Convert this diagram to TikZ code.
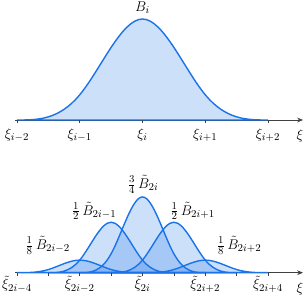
\documentclass[tikz,border=0pt]{standalone}
\usepackage{amsmath}
\usepackage{amssymb}
\usepackage{xcolor}
\usepackage{tikz}
\usetikzlibrary{arrows.meta}

\definecolor{splineblue}{RGB}{26,115,232}
% cubic B-spline: center, knot step, peak height, axis height
\newcommand{\bspl}[4]{({#1-2*#2},#4) .. controls ({#1-5*#2/3},#4) and ({#1-4*#2/3},#4) .. ({#1-#2},{#4+#3/4})
  .. controls ({#1-2*#2/3},{#4+#3/2}) and ({#1-#2/3},{#4+#3}) .. (#1,{#4+#3})
  .. controls ({#1+#2/3},{#4+#3}) and ({#1+2*#2/3},{#4+#3/2}) .. ({#1+#2},{#4+#3/4})
  .. controls ({#1+4*#2/3},#4) and ({#1+5*#2/3},#4) .. ({#1+2*#2},#4) -- cycle}

\begin{document}
\begin{tikzpicture}[
    x=0.03cm, y=0.03cm,
    spline/.style={draw=splineblue, line width=1.2pt, fill=splineblue, fill opacity=0.22},
    axis/.style={-{Stealth[length=5pt, width=4pt]}, draw=black!75, line width=0.6pt},
    tick/.style={draw=black!75, line width=0.6pt},
    lbl/.style={font=\fontsize{13}{15}\selectfont, inner sep=1pt}
]
\useasboundingbox (0,0) rectangle (306,300);

% --- Coarse basis function ---
\coordinate (ta) at (15,180);
\coordinate (tb) at (303,180);
\draw[axis] (ta) -- (tb);
\draw[spline] \bspl{142.5}{62.75}{101}{180};
\foreach \k/\lab in {0/{i-2},1/{i-1},2/{i},3/{i+1},4/{i+2}} {
  \coordinate (tk\k) at ({17+62.75*\k},180);
  \draw[tick] (tk\k) -- ++(0,-3) node[lbl, below=3.5pt] (tl\k) {$\xi_{\lab}$};
}
\node[lbl] (txi) at (300,164) {$\xi$};
\node[lbl] (tB) at (142.5,292.5) {$B_i$};

% --- Refined basis functions ---
\coordinate (ba) at (15,27.3);
\coordinate (bb) at (303,27.3);
\draw[axis] (ba) -- (bb);
\draw[spline] \bspl{79.75}{31.375}{12.6}{27.3};
\draw[spline] \bspl{111.125}{31.375}{50.5}{27.3};
\draw[spline] \bspl{142.5}{31.375}{75.75}{27.3};
\draw[spline] \bspl{173.875}{31.375}{50.5}{27.3};
\draw[spline] \bspl{205.25}{31.375}{12.6}{27.3};
\foreach \k in {0,...,8} {
  \coordinate (bk\k) at ({17+31.375*\k},27.3);
  \draw[tick] (bk\k) -- ++(0,-3);
}
\foreach \k/\lab in {0/{2i-4},2/{2i-2},4/{2i},6/{2i+2},8/{2i+4}} {
  \node[lbl, below=1.5pt] (bl\k) at (bk\k) {$\tilde{\xi}_{\lab}$};
}
\node[lbl] (bxi) at (300,11) {$\xi$};
\node[lbl] (bB0) at (47.5,54.5) {$\tfrac{1}{8}\,\tilde{B}_{2i-2}$};
\node[lbl] (bB1) at (94,89) {$\tfrac{1}{2}\,\tilde{B}_{2i-1}$};
\node[lbl] (bB2) at (143,115.5) {$\tfrac{3}{4}\,\tilde{B}_{2i}$};
\node[lbl] (bB3) at (192.5,89) {$\tfrac{1}{2}\,\tilde{B}_{2i+1}$};
\node[lbl] (bB4) at (239,54.5) {$\tfrac{1}{8}\,\tilde{B}_{2i+2}$};
\end{tikzpicture}
\end{document}
